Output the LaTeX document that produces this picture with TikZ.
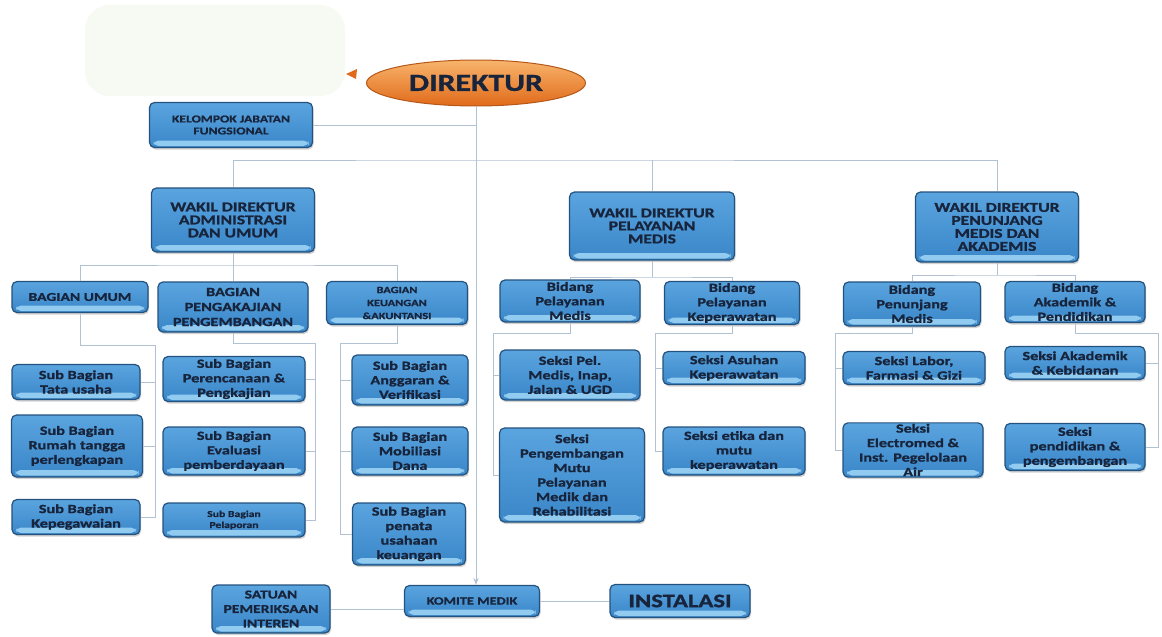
\documentclass[tikz,border=0pt]{standalone}
\usepackage{fontspec}
\setmainfont{Carlito}[FakeStretch=1.3, BoldFeatures={FakeBold=1.2}]
\usetikzlibrary{shapes.geometric,shadows,arrows.meta}

\definecolor{boxtop}{HTML}{5AA4DF}
\definecolor{boxbot}{HTML}{3A86C8}
\definecolor{boxband}{HTML}{92CBF0}
\definecolor{boxedge}{HTML}{24527E}
\definecolor{boxtext}{HTML}{17243B}
\definecolor{linkcol}{HTML}{B3C2D3}
\definecolor{dirtop}{HTML}{F8B46C}
\definecolor{dirbot}{HTML}{E06A1A}
\definecolor{diredge}{HTML}{B5581A}
\definecolor{blob}{HTML}{F6FAF2}

\begin{document}
\begin{tikzpicture}[x=1pt,y=-1pt,
  box/.style 2 args={draw=boxedge, line width=1.2pt, rounded corners=5pt,
    top color=boxtop, bottom color=boxbot, minimum width=#1pt, minimum height=#2pt,
    inner sep=1pt, align=center, text=boxtext,
    font=\bfseries\fontsize{12.5}{14.5}\selectfont,
    drop shadow={shadow xshift=1pt, shadow yshift=-2pt, opacity=0.35},
    path picture={\fill[boxband] ([xshift=4pt,yshift=1.5pt]path picture bounding box.south west) rectangle ([xshift=-4pt,yshift=7pt]path picture bounding box.south east);}},
  caps/.style={font=\bfseries\fontsize{13.5}{13}\selectfont},
  link/.style={draw=linkcol, line width=0.9pt}]
\useasboundingbox (0,0) rectangle (1162,637);
\fill[white] (0,0) rectangle (1162,637);

\fill[blob, rounded corners=25pt] (85,5) rectangle (345,96);
\fill[dirbot] (346,74) -- (357,69) -- (356,79) -- cycle;

\node[ellipse, draw=diredge, line width=1pt, top color=dirtop, bottom color=dirbot, minimum width=219pt, minimum height=46pt, text=boxtext, font=\bfseries\fontsize{24.5}{24}\selectfont] (dir) at (476,83) {DIREKTUR};
\node[box={163}{45}, font=\bfseries\fontsize{10.5}{12}\selectfont] (kjf) at (231,125) {KELOMPOK JABATAN\\FUNGSIONAL};

\node[box={163}{64}, caps] (wadm) at (233,220) {WAKIL DIREKTUR\\ADMINISTRASI\\DAN UMUM};
\node[box={165}{68}, caps] (wpel) at (652,226) {WAKIL DIREKTUR\\PELAYANAN\\MEDIS};
\node[box={163}{70}, caps] (wpen) at (997,227) {WAKIL DIREKTUR\\PENUNJANG\\MEDIS DAN\\AKADEMIS};

\node[box={136}{31}, font=\bfseries\fontsize{12}{14}\selectfont] (bum) at (80,297) {BAGIAN UMUM};
\node[box={150}{50}, font=\bfseries\fontsize{12.5}{15}\selectfont] (bpk) at (233,307) {BAGIAN\\PENGAKAJIAN\\PENGEMBANGAN};
\node[box={141}{43}, font=\bfseries\fontsize{9.5}{13}\selectfont] (bka) at (397,303) {BAGIAN\\KEUANGAN\\\&AKUNTANSI};

\node[box={128}{35}] (st1) at (76,382) {Sub Bagian\\Tata usaha};
\node[box={131}{62}] (st2) at (77,446) {Sub Bagian\\Rumah tangga\\perlengkapan};
\node[box={128}{35}] (st3) at (76,517) {Sub Bagian\\Kepegawaian};
\node[box={142}{45}] (sp1) at (234,379) {Sub Bagian\\Perencanaan \&\\Pengkajian};
\node[box={142}{48}] (sp2) at (234,451) {Sub Bagian\\Evaluasi\\pemberdayaan};
\node[box={142}{34}, font=\bfseries\fontsize{9}{11}\selectfont] (sp3) at (234,520) {Sub Bagian\\Pelaporan};
\node[box={116}{50}] (sk1) at (410,380) {Sub Bagian\\Anggaran \&\\Verifikasi};
\node[box={116}{48}] (sk2) at (410,451) {Sub Bagian\\Mobiliasi\\Dana};
\node[box={113}{62}] (sk3) at (409,534) {Sub Bagian\\penata\\usahaan\\keuangan};

\node[box={118}{48}, font=\bfseries\fontsize{12}{14.5}\selectfont] (spi) at (271,609) {SATUAN\\PEMERIKSAAN\\INTEREN};
\node[box={135}{31}, font=\bfseries\fontsize{11}{13}\selectfont] (kom) at (472,601) {KOMITE MEDIK};
\node[box={140}{33}, font=\bfseries\fontsize{19}{20}\selectfont] (ins) at (680,601) {INSTALASI};

\node[box={140}{42}] (bpm) at (570,301) {Bidang\\Pelayanan\\Medis};
\node[box={135}{43}] (bpkp) at (732,303) {Bidang\\Pelayanan\\Keperawatan};
\node[box={140}{50}] (sm1) at (570,375) {Seksi Pel.\\Medis, Inap,\\Jalan \& UGD};
\node[box={145}{94}] (sm2) at (572,475) {Seksi\\Pengembangan\\Mutu\\Pelayanan\\Medik dan\\Rehabilitasi};
\node[box={142}{33}] (sa1) at (734,368) {Seksi Asuhan\\Keperawatan};
\node[box={142}{48}] (sa2) at (734,451) {Seksi etika dan\\mutu\\keperawatan};

\node[box={137}{44}] (bpn) at (912,304) {Bidang\\Penunjang\\Medis};
\node[box={140}{41}] (bak) at (1075,302) {Bidang\\Akademik \&\\Pendidikan};
\node[box={142}{33}] (sl1) at (914,368) {Seksi Labor,\\Farmasi \& Gizi};
\node[box={140}{54}] (sl2) at (913,450) {Seksi\\Electromed \&\\Inst. Pegelolaan\\Air};
\node[box={140}{33}] (sd1) at (1075,363) {Seksi Akademik\\\& Kebidanan};
\node[box={140}{47}] (sd2) at (1075,447) {Seksi\\pendidikan \&\\pengembangan};

\draw[link,-{Stealth[length=7pt]}] (dir.south) -- (dir.south |- kom.north);
\draw[link] (kjf.east) -- (kjf.east -| dir.south);

\coordinate (bus) at (476,160);
\draw[link] (wadm.north) |- (bus) -| (wpen.north);
\draw[link] (wpel.north) -- (wpel.north |- bus);

\coordinate (adm) at (233,265);
\draw[link] (bum.north) |- (adm) -| (bka.north);
\draw[link] (wadm.south) -- (bpk.north);

\coordinate (cu) at (155,345);
\draw[link] (bum.south) |- (cu) |- (st3.east);
\draw[link] (st1.east) -- (st1.east -| cu);
\draw[link] (st2.east) -- (st2.east -| cu);

\coordinate (cp) at (315,343);
\draw[link] (bpk.south) |- (cp) |- (sp3.east);
\draw[link] (sp1.east) -- (sp1.east -| cp);
\draw[link] (sp2.east) -- (sp2.east -| cp);

\coordinate (ck) at (340,343);
\draw[link] (bka.south) |- (ck) |- (sk3.west);
\draw[link] (sk1.west) -- (sk1.west -| ck);
\draw[link] (sk2.west) -- (sk2.west -| ck);

\coordinate (pel) at (652,277);
\draw[link] (bpm.north) |- (pel) -| (bpkp.north);
\draw[link] (wpel.south) -- (wpel.south |- pel);

\coordinate (cm) at (493,333);
\draw[link] (bpm.south) |- (cm) |- (sm2.west);
\draw[link] (sm1.west) -- (sm1.west -| cm);

\coordinate (ca) at (655,333);
\draw[link] (bpkp.south) |- (ca) |- (sa2.west);
\draw[link] (sa1.west) -- (sa1.west -| ca);

\coordinate (pen) at (997,275);
\draw[link] (bpn.north) |- (pen) -| (bak.north);
\draw[link] (wpen.south) -- (wpen.south |- pen);

\coordinate (cl) at (835,333);
\draw[link] (bpn.south) |- (cl) |- (sl2.west);
\draw[link] (sl1.west) -- (sl1.west -| cl);

\coordinate (cd) at (1158,333);
\draw[link] (bak.south) |- (cd) |- (sd2.east);
\draw[link] (sd1.east) -- (sd1.east -| cd);

\draw[link] (spi.east) -- (spi.east -| kom.west);
\draw[link] (kom.east) -- (ins.west);
\end{tikzpicture}
\end{document}
